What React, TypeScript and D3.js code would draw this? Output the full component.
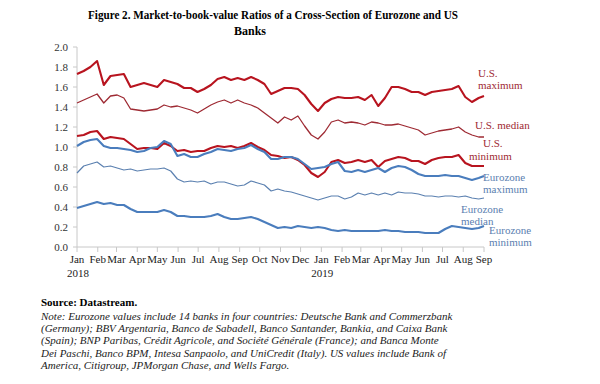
import React from "react";
import * as d3 from "d3";

// sample dates: every 10 days from 1 Jan 2018, plus 1 Sep 2019
const start = new Date(2018, 0, 1);
const end = new Date(2019, 8, 1);
const dates = [...d3.range(0, 601, 10).map((k) => d3.timeDay.offset(start, k)), end];

const usMax = [1.73, 1.76, 1.80, 1.86, 1.62, 1.71, 1.72, 1.73, 1.60, 1.62, 1.64, 1.62, 1.60, 1.67, 1.65, 1.63, 1.59, 1.59, 1.55, 1.58, 1.62, 1.68, 1.70, 1.67, 1.69, 1.67, 1.70, 1.67, 1.63, 1.53, 1.56, 1.59, 1.59, 1.58, 1.52, 1.43, 1.36, 1.44, 1.48, 1.50, 1.49, 1.49, 1.50, 1.47, 1.52, 1.41, 1.49, 1.60, 1.60, 1.58, 1.55, 1.55, 1.52, 1.55, 1.56, 1.57, 1.58, 1.61, 1.50, 1.45, 1.49, 1.51];
const usMedian = [1.44, 1.47, 1.50, 1.53, 1.44, 1.51, 1.52, 1.49, 1.38, 1.37, 1.36, 1.37, 1.38, 1.42, 1.40, 1.41, 1.39, 1.37, 1.34, 1.38, 1.42, 1.45, 1.47, 1.44, 1.47, 1.44, 1.42, 1.39, 1.34, 1.29, 1.24, 1.30, 1.27, 1.31, 1.21, 1.12, 1.08, 1.15, 1.25, 1.27, 1.24, 1.25, 1.24, 1.22, 1.25, 1.24, 1.22, 1.22, 1.23, 1.21, 1.19, 1.17, 1.12, 1.14, 1.16, 1.17, 1.18, 1.20, 1.15, 1.12, 1.10, 1.10];
const usMin = [1.11, 1.12, 1.15, 1.16, 1.08, 1.10, 1.09, 1.08, 1.03, 0.98, 0.99, 0.99, 0.98, 1.04, 1.01, 0.96, 0.97, 0.95, 0.96, 0.96, 0.99, 1.01, 1.00, 1.01, 0.99, 1.01, 1.04, 1.00, 0.97, 0.92, 0.91, 0.89, 0.90, 0.87, 0.82, 0.74, 0.70, 0.75, 0.85, 0.87, 0.84, 0.85, 0.87, 0.85, 0.87, 0.80, 0.86, 0.88, 0.90, 0.89, 0.86, 0.86, 0.83, 0.87, 0.89, 0.90, 0.90, 0.92, 0.84, 0.81, 0.81, 0.81];
const euroMax = [1.01, 1.05, 1.07, 1.08, 1.01, 0.99, 0.99, 0.98, 0.97, 0.95, 0.96, 0.99, 1.00, 1.06, 1.03, 0.91, 0.93, 0.90, 0.90, 0.93, 0.95, 0.98, 0.97, 0.96, 0.98, 0.99, 1.02, 0.98, 0.95, 0.88, 0.88, 0.90, 0.90, 0.88, 0.83, 0.78, 0.79, 0.80, 0.83, 0.85, 0.76, 0.75, 0.77, 0.75, 0.77, 0.79, 0.75, 0.79, 0.81, 0.80, 0.77, 0.73, 0.71, 0.71, 0.71, 0.72, 0.71, 0.71, 0.69, 0.67, 0.69, 0.71];
const euroMedian = [0.74, 0.81, 0.83, 0.85, 0.80, 0.81, 0.79, 0.77, 0.78, 0.76, 0.77, 0.78, 0.78, 0.79, 0.76, 0.68, 0.65, 0.66, 0.65, 0.66, 0.63, 0.65, 0.65, 0.63, 0.61, 0.62, 0.66, 0.64, 0.62, 0.56, 0.58, 0.56, 0.55, 0.53, 0.51, 0.49, 0.47, 0.49, 0.51, 0.51, 0.48, 0.50, 0.54, 0.52, 0.54, 0.52, 0.54, 0.52, 0.55, 0.54, 0.54, 0.53, 0.51, 0.51, 0.50, 0.51, 0.51, 0.50, 0.51, 0.49, 0.48, 0.49];
const euroMin = [0.39, 0.41, 0.43, 0.45, 0.43, 0.44, 0.42, 0.42, 0.38, 0.35, 0.35, 0.35, 0.35, 0.37, 0.35, 0.31, 0.31, 0.30, 0.30, 0.30, 0.31, 0.33, 0.30, 0.28, 0.28, 0.29, 0.30, 0.28, 0.25, 0.22, 0.19, 0.20, 0.19, 0.21, 0.20, 0.19, 0.20, 0.19, 0.17, 0.16, 0.17, 0.16, 0.16, 0.16, 0.16, 0.16, 0.17, 0.16, 0.16, 0.15, 0.15, 0.15, 0.14, 0.14, 0.14, 0.18, 0.21, 0.20, 0.19, 0.18, 0.19, 0.21];

const yTicks = [0, 0.2, 0.4, 0.6, 0.8, 1.0, 1.2, 1.4, 1.6, 1.8, 2.0];

const titleLines = [
  "Figure 2. Market-to-book-value Ratios of a Cross-Section of Eurozone and US",
  "Banks",
];
const sourceText = "Source: Datastream.";
const noteLines = [
  "Note: Eurozone values include 14 banks in four countries: Deutsche Bank and Commerzbank",
  "(Germany); BBV Argentaria, Banco de Sabadell, Banco Santander, Bankia, and Caixa Bank",
  "(Spain); BNP Paribas, Crédit Agricole, and Société Générale (France); and Banca Monte",
  "Dei Paschi, Banco BPM, Intesa Sanpaolo, and UniCredit (Italy). US values include Bank of",
  "America, Citigroup, JPMorgan Chase, and Wells Fargo.",
];

const RED = "#b8141f";
const RED_MED = "#9e2a33";
const BLUE = "#4a7dbd";
const BLUE_MED = "#5b80b0";
const FONT = "Liberation Serif, DejaVu Serif, serif";

const series = [
  { key: "usMax", values: usMax, color: RED, width: 2.1 },
  { key: "usMedian", values: usMedian, color: RED_MED, width: 1.3 },
  { key: "usMin", values: usMin, color: RED, width: 2.1 },
  { key: "euroMax", values: euroMax, color: BLUE, width: 2.1 },
  { key: "euroMedian", values: euroMedian, color: BLUE_MED, width: 1.2 },
  { key: "euroMin", values: euroMin, color: BLUE, width: 2.1 },
];

// series labels: [lines, x, first baseline, colour]
const labels: [string[], number, number, string][] = [
  [["U.S.", "maximum"], 478, 77, RED_MED],
  [["U.S. median"], 475, 129, RED_MED],
  [["U.S."], 483, 147, RED_MED],
  [["minimum"], 469, 160, RED_MED],
  [["Eurozone", "maximum"], 483, 181, BLUE_MED],
  [["Eurozone", "median"], 461, 213, BLUE_MED],
  [["Eurozone", "minimum"], 489, 234, BLUE_MED],
];

export default function App() {
  const width = 600, height = 384;
  const x = d3.scaleTime().domain([start, end]).range([77, 484]);
  const y = d3.scaleLinear().domain([0, 2]).range([247, 47]);
  const months = d3.timeMonth.range(start, d3.timeDay.offset(end, 1));
  const fmt = d3.timeFormat("%b");

  const line = d3
    .line<number>()
    .x((_, i) => x(dates[i]))
    .y((d) => y(d));

  return (
    <svg
      width={width}
      height={height}
      style={{ position: "absolute", left: 0, top: 0, background: "#fff", fontFamily: FONT }}
    >
      {/* title */}
      <text x={273} y={19} textAnchor="middle" fontSize={12} fontWeight="bold" textLength={370} lengthAdjust="spacingAndGlyphs">
        {titleLines[0]}
      </text>
      <text x={250} y={35} textAnchor="middle" fontSize={12} fontWeight="bold">
        {titleLines[1]}
      </text>

      {/* y axis */}
      <line x1={77} x2={77} y1={y(2)} y2={y(0)} stroke="#c8c8c8" />
      {yTicks.map((t) => (
        <g key={t}>
          <line x1={73} x2={77} y1={y(t)} y2={y(t)} stroke="#c8c8c8" />
          <text x={68} y={y(t) + 4} textAnchor="end" fontSize={11} fill="#333">
            {d3.format(".1f")(t)}
          </text>
        </g>
      ))}

      {/* x axis */}
      <line x1={x(start)} x2={x(end)} y1={y(0)} y2={y(0)} stroke="#c8c8c8" />
      {months.map((m, i) => (
        <g key={i}>
          <line x1={x(m)} x2={x(m)} y1={y(0)} y2={y(0) + 5} stroke="#c8c8c8" />
          <text x={x(m)} y={263} textAnchor="middle" fontSize={11} fill="#222">
            {fmt(m)}
          </text>
          {m.getMonth() === 0 && (
            <text x={x(m) + 1} y={277} textAnchor="middle" fontSize={11} fill="#222">
              {m.getFullYear()}
            </text>
          )}
        </g>
      ))}

      {/* series */}
      {series.map((s) => (
        <path key={s.key} d={line(s.values) || ""} fill="none" stroke={s.color} strokeWidth={s.width} strokeLinejoin="round" />
      ))}

      {/* series labels */}
      {labels.map(([lines, lx, ly, c], i) =>
        lines.map((t, j) => (
          <text key={`${i}-${j}`} x={lx} y={ly + j * 12} fontSize={11} fill={c}>
            {t}
          </text>
        ))
      )}

      {/* source and note */}
      <text x={41} y={306} fontSize={11} fontWeight="bold">
        {sourceText}
      </text>
      {noteLines.map((t, i) => (
        <text key={i} x={41} y={320 + i * 12.2} fontSize={11} fontStyle="italic" fill="#222">
          {t}
        </text>
      ))}
    </svg>
  );
}
